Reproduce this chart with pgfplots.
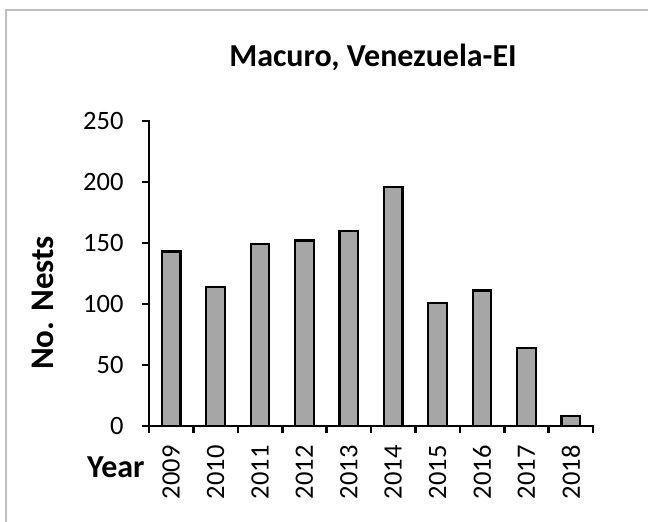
\documentclass[border=0pt]{standalone}
\usepackage{pgfplots}
\pgfplotsset{compat=1.18}
\usepackage{fontspec}
\setmainfont{Carlito}
\definecolor{barfill}{HTML}{A6A6A6}
\definecolor{framegray}{HTML}{C0C0C0}
\begin{document}
\begin{tikzpicture}[x=1pt,y=1pt]
\useasboundingbox (0,0) rectangle (648,522);
\draw[framegray,line width=1.5pt] (6,0) -- (6,512) -- (648,512);
\begin{axis}[
  at={(149pt,96pt)}, anchor=south west,
  scale only axis, width=444pt, height=305pt,
  xmin=-0.5, xmax=9.5, ymin=0, ymax=250,
  axis lines*=left,
  axis line style={line width=2.6pt, line cap=rect},
  every tick/.style={black,line width=2.6pt},
  tick align=outside, major tick length=7pt,
  xtick={-0.5,0.5,...,9.5},
  x tick label as interval,
  xticklabels={2009,2010,2011,2012,2013,2014,2015,2016,2017,2018},
  ytick={0,50,...,250},
  /pgf/number format/assume math mode=true,
  xticklabel style={yshift=-9pt, rotate=90, anchor=east, font=\fontsize{26.5}{26.5}\selectfont},
  yticklabel style={font=\fontsize{26.5}{26.5}\selectfont, xshift=-15pt},
  ybar, bar width=18.7pt,
  clip=false,
]
\addplot[fill=barfill, draw=black, line width=2.2pt] coordinates {
(0,143) (1,114) (2,149) (3,152) (4,160) (5,196) (6,101) (7,111) (8,64) (9,8)
};
\end{axis}
\node[anchor=base, font=\bfseries\fontsize{32}{32}\selectfont] at (373,455) {Macuro, Venezuela-EI};
\node[rotate=90, font=\bfseries\fontsize{33}{33}\selectfont] at (43,219) {No. Nests};
\node[anchor=base west, font=\bfseries\fontsize{32}{32}\selectfont, inner sep=0pt] at (87,44) {Year};
\end{tikzpicture}
\end{document}
